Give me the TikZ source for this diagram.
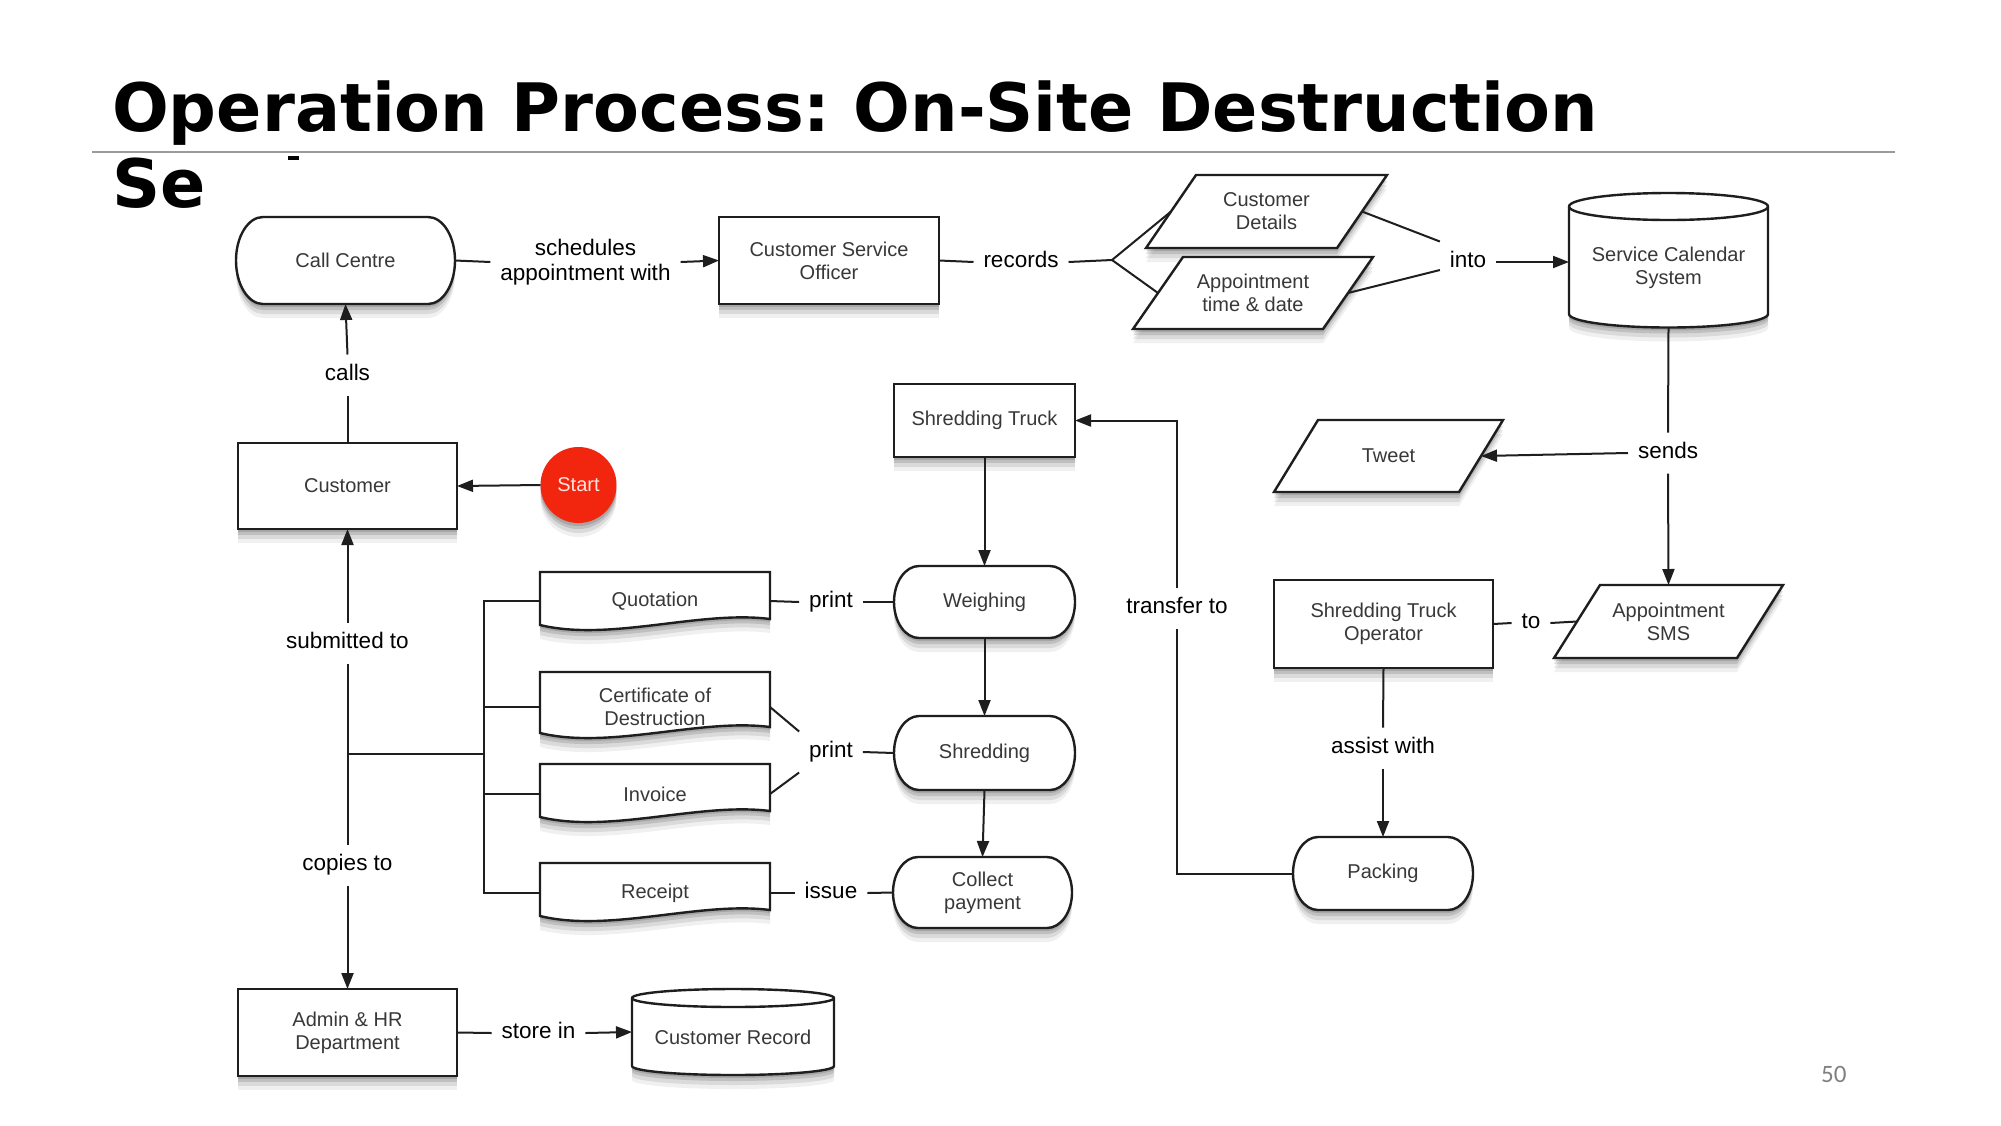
\documentclass[tikz,border=0pt]{standalone}
\usepackage{fontspec}
\setmainfont{Liberation Sans}
\newfontfamily\titlef{DejaVu Sans}
\newfontfamily\pagef{Carlito}
\usetikzlibrary{arrows.meta,calc}
\pgfdeclarelayer{bg}
\pgfsetlayers{bg,main}
\frenchspacing
\definecolor{linec}{HTML}{1E1E1E}
\definecolor{ntxt}{HTML}{383838}
\definecolor{startred}{HTML}{F2260F}
\definecolor{rulec}{HTML}{9B9B9B}
\definecolor{pagec}{HTML}{808080}
\tikzset{
  shd/.style={preaction={fill=black,opacity=.13,transform canvas={yshift=-3pt}},
              preaction={fill=black,opacity=.12,transform canvas={yshift=-6pt}},
              preaction={fill=black,opacity=.09,transform canvas={yshift=-10pt}},
              preaction={fill=black,opacity=.06,transform canvas={yshift=-14pt}}},
  boxline/.style={draw=linec,line width=2.4pt},
  ntext/.style={font=\fontsize{20pt}{23pt}\selectfont,text=ntxt,align=center,inner sep=0pt,outer sep=0pt},
  rectbox/.style={ntext,rectangle,boxline,fill=white,shd},
  geomnode/.style={rectangle,draw=none,inner sep=0pt,outer sep=0pt},
  lbl/.style={font=\fontsize{22.5pt}{25.5pt}\selectfont,text=black,align=center,inner xsep=10pt,inner ysep=10pt,outer sep=0pt},
  lblh/.style={lbl,text height=16pt,text depth=5pt},
  conn/.style={draw=linec,line width=2pt},
  arr/.style={conn,-{Triangle[length=16pt,width=12pt]}},
}
\newcommand{\stadshape}[3]{%
  \begin{pgfonlayer}{bg}
  \path[shd,boxline,fill=white] ([xshift=#2pt]#1.north west) -- ([xshift=-#2pt]#1.north east)
    arc[start angle=90,end angle=-90,x radius=#2pt,y radius=#3pt]
    -- ([xshift=#2pt]#1.south west)
    arc[start angle=270,end angle=90,x radius=#2pt,y radius=#3pt] -- cycle;
  \end{pgfonlayer}}
\newcommand{\parashape}[2]{%
  \begin{pgfonlayer}{bg}
  \path[shd,boxline,fill=white] ([xshift=-#2pt]#1.south west) -- ([xshift=-#2pt]#1.south east)
    -- ([xshift=#2pt]#1.north east) -- ([xshift=#2pt]#1.north west) -- cycle;
  \end{pgfonlayer}}
\newcommand{\docshape}[2]{%
  \begin{pgfonlayer}{bg}
  \path[shd,boxline,fill=white] (540,#1) -- (770,#1) -- (770,#2)
    .. controls (700,#2-9) and (610,#2+23) .. (540,#2+6) -- cycle;
  \end{pgfonlayer}}
\begin{document}
\begin{tikzpicture}[x=1pt,y=-1pt]
\begin{pgfonlayer}{bg}
\fill[white] (0,0) rectangle (2001,1125);
\end{pgfonlayer}
\useasboundingbox (0,0) rectangle (2001,1125);

% title
\node[anchor=base west,inner sep=0pt,font=\titlef\bfseries\fontsize{66.8pt}{76pt}\selectfont] (title1) at (112,131) {Operation Process: On-Site Destruction};
\node[anchor=base west,inner sep=0pt,font=\titlef\bfseries\fontsize{66.8pt}{76pt}\selectfont] (title2) at (112,207) {Se};
\fill[black] (288,156) rectangle (299,160);
\draw[rulec,line width=2.2pt] (92,152) -- (1895,152);

% stadium nodes
\node[ntext,minimum width=219pt,minimum height=87pt] (callc) at (345.5,260.5) {Call Centre};
\stadshape{callc}{27}{43.5}
\node[ntext,minimum width=181pt,minimum height=72pt] (weigh) at (984.5,602) {Weighing};
\stadshape{weigh}{25}{36}
\node[ntext,minimum width=181pt,minimum height=74pt] (shred) at (984.5,753) {Shredding};
\stadshape{shred}{25}{37}
\node[ntext,minimum width=179pt,minimum height=71pt] (coll) at (982.5,892.5) {Collect\\payment};
\stadshape{coll}{25}{35.5}
\node[ntext,minimum width=180pt,minimum height=73pt] (pack) at (1383,873.5) {Packing};
\stadshape{pack}{25}{36.5}

% rectangles
\node[rectbox,minimum width=220pt,minimum height=87pt] (cso) at (829,260.5) {Customer Service\\Officer};
\node[rectbox,minimum width=219pt,minimum height=86pt] (cust) at (347.5,486) {Customer};
\node[rectbox,minimum width=219pt,minimum height=87pt] (admin) at (347.5,1032.5) {Admin \& HR\\Department};
\node[rectbox,minimum width=181pt,minimum height=73pt] (truck) at (984.5,420.5) {Shredding Truck};
\node[rectbox,minimum width=219pt,minimum height=88pt] (op) at (1383.5,624) {Shredding Truck\\Operator};

% start
\node[circle,fill=startred,shd,minimum size=76pt,inner sep=0pt,outer sep=0pt,font=\fontsize{20pt}{23pt}\selectfont,text={rgb,255:red,255;green,228;blue,222}] (start) at (578.5,485) {Start};

% parallelograms
\node[ntext,minimum width=191pt,minimum height=73pt] (cd) at (1266.5,211.5) {Customer\\Details};
\parashape{cd}{25}
\node[ntext,minimum width=190pt,minimum height=72pt] (ad) at (1253,293) {Appointment\\time \& date};
\parashape{ad}{25}
\node[ntext,minimum width=185pt,minimum height=72pt] (tw) at (1388.5,456) {Tweet};
\parashape{tw}{22}
\node[ntext,minimum width=183pt,minimum height=73pt] (sms) at (1668.5,621.5) {Appointment\\SMS};
\parashape{sms}{23}

% documents
\docshape{572}{619}
\node[ntext,minimum width=230pt] (quo) at (655,601) {Quotation};
\docshape{672}{727}
\node[ntext,minimum width=230pt] (cert) at (655,707) {Certificate of\\Destruction};
\docshape{764}{811}
\node[ntext,minimum width=230pt] (inv) at (655,794) {Invoice};
\docshape{863}{910}
\node[ntext,minimum width=230pt] (rcpt) at (655,893) {Receipt};

% cylinders
\begin{pgfonlayer}{bg}
\path[shd,boxline,fill=white] (1569,206.5) -- (1569,314)
  arc[start angle=180,end angle=360,x radius=99.5pt,y radius=13.5pt]
  -- (1768,206.5) arc[start angle=0,end angle=180,x radius=99.5pt,y radius=13.5pt] -- cycle;
\draw[boxline] (1569,206.5) arc[start angle=180,end angle=360,x radius=99.5pt,y radius=13.5pt];
\path[shd,boxline,fill=white] (632,998) -- (632,1066)
  arc[start angle=180,end angle=360,x radius=101pt,y radius=9pt]
  -- (834,998) arc[start angle=0,end angle=180,x radius=101pt,y radius=9pt] -- cycle;
\draw[boxline] (632,998) arc[start angle=180,end angle=360,x radius=101pt,y radius=9pt];
\end{pgfonlayer}
\node[geomnode,minimum width=199pt,minimum height=134pt] (scs) at (1668.5,260) {};
\node[ntext] (scst) at (1668.5,268) {Service Calendar\\System};
\node[geomnode,minimum width=202pt,minimum height=86pt] (crec) at (733,1032) {};
\node[ntext] (crect) at (733,1037) {Customer Record};

% labels
\node[lbl] (sched) at (585.5,262) {schedules\\appointment with};
\node[lblh] (lrec) at (1021,262) {records};
\node[lblh] (into) at (1468,262) {into};
\node[lblh] (sends) at (1668,453) {sends};
\node[lblh] (to) at (1531,623) {to};
\node[lblh] (assist) at (1383,748) {assist with};
\node[lblh] (transfer) at (1177,608) {transfer to};
\node[lblh] (p1) at (831,602) {print};
\node[lblh] (p2) at (831,752) {print};
\node[lblh] (issue) at (831,893) {issue};
\node[lblh] (calls) at (347.5,375) {calls};
\node[lblh] (subm) at (347.5,643) {submitted to};
\node[lblh] (copies) at (347.5,865) {copies to};
\node[lblh] (store) at (538.5,1033) {store in};

% page number
\node[anchor=base west,inner sep=0pt,font=\pagef\fontsize{25pt}{30pt}\selectfont,text=pagec] (pnum) at (1821,1082) {50};

% connectors
\coordinate (branch) at (1112,260);
\coordinate (bus) at (484,601);
\coordinate (jn) at (347.5,754);

\draw[conn] (callc.east) -- (sched.west);
\draw[arr] (sched.east) -- (cso.west);
\draw[conn] (cso.east) -- (lrec.west);
\draw[conn] (lrec.east) -- (branch);
\draw[conn] (branch) -- (cd.west);
\draw[conn] (branch) -- (ad.west);
\draw[conn] (cd.east) -- (into.north west);
\draw[conn] (ad.east) -- ([yshift=-8pt]into.west);
\draw[arr] (into.east) -- (into.east -| scs.west);
\draw[conn] (scs.south) -- (sends.north);
\draw[arr] (sends.west) -- (tw.east);
\draw[arr] (sends.south) -- (sms.north);
\draw[conn] (op.east) -- (to.west);
\draw[conn] (to.east) -- (sms.west);
\draw[conn] (op.south) -- (assist.north);
\draw[arr] (assist.south) -- (pack.north);
\draw[conn] (pack.west) -| (transfer.south);
\draw[arr] (transfer.north) |- (truck.east);
\draw[arr] (truck.south) -- (weigh.north);
\draw[arr] (weigh.south) -- (shred.north);
\draw[arr] (shred.south) -- (coll.north);
\draw[conn] (quo.east) -- (p1.west);
\draw[conn] (p1.east) -- (weigh.west);
\draw[conn] (cert.east) -- (p2.north west);
\draw[conn] (inv.east) -- (p2.south west);
\draw[conn] (p2.east) -- (shred.west);
\draw[conn] (rcpt.east) -- (issue.west);
\draw[conn] (issue.east) -- (coll.west);
\draw[conn] (quo.west) -- (quo.west -| bus) -- (rcpt.west -| bus) -- (rcpt.west);
\draw[conn] (cert.west) -- (cert.west -| bus);
\draw[conn] (inv.west) -- (inv.west -| bus);
\draw[conn] (jn) -- (jn -| bus);
\draw[conn] (jn) -- (subm.south);
\draw[arr] (subm.north) -- (cust.south);
\draw[conn] (jn) -- (copies.north);
\draw[arr] (copies.south) -- (admin.north);
\draw[conn] (cust.north) -- (calls.south);
\draw[arr] (calls.north) -- (callc.south);
\draw[arr] (start.west) -- (cust.east);
\draw[conn] (admin.east) -- (store.west);
\draw[arr] (store.east) -- (crec.west);
\end{tikzpicture}
\end{document}
